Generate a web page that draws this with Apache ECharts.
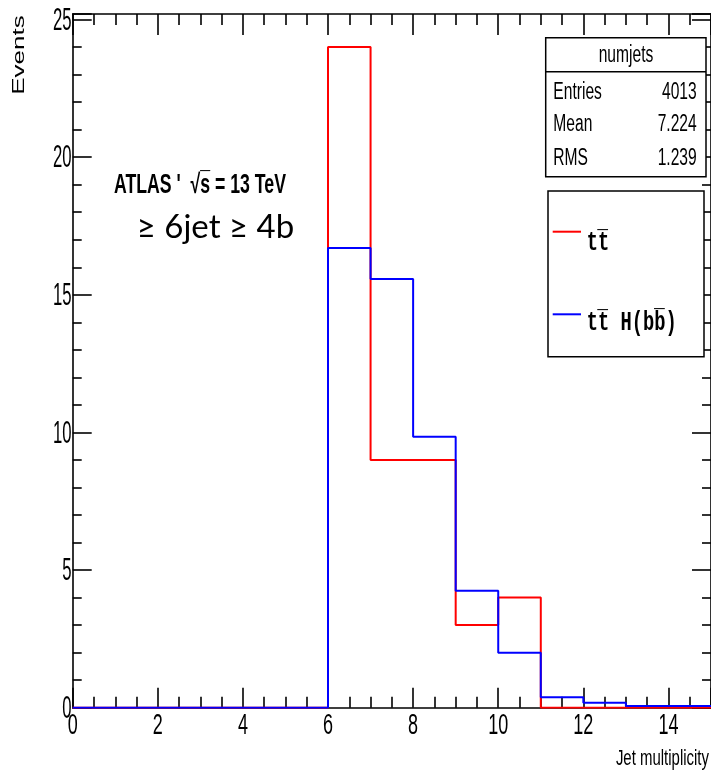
<!DOCTYPE html>
<html>
<head>
<meta charset="utf-8">
<script src="https://cdn.jsdelivr.net/npm/echarts@6/dist/echarts.min.js"></script>
<style>
  html, body { margin: 0; padding: 0; background: #fff; }
  #c { width: 711px; height: 775px; }
</style>
</head>
<body>
<div id="c"></div>
<script>
// Jet multiplicity histograms, unit-width bins from 0 to 15
const binEdges = [0, 1, 2, 3, 4, 5, 6, 7, 8, 9, 10, 11, 12, 13, 14, 15];
const ttbar    = [0, 0, 0, 0, 0, 0, 24, 9, 9, 3, 4, 0, 0, 0, 0];
const tthbb    = [0, 0, 0, 0, 0, 0, 16.7, 15.57, 9.84, 4.25, 2, 0.38, 0.18, 0.06, 0.06];

// Axis tick labels
const xTickLabels = [0, 2, 4, 6, 8, 10, 12, 14];
const yTickLabels = [0, 5, 10, 15, 20, 25];

// Statistics box and legend content
const statsTitle = 'numjets';
const statsNames = ['Entries', 'Mean', 'RMS'];
const statsValues = ['4013', '7.224', '1.239'];
const legendNames = ['tt\u0305', 'tt\u0305 H(bb\u0305)'];

// Histogram outline: one point per lower bin edge plus the closing edge
function outline(vals) {
  const pts = vals.map((v, i) => [binEdges[i], v]);
  pts.push([binEdges[vals.length], vals[vals.length - 1]]);
  return pts;
}

const black = '#000';
const tickStyle = { color: black, width: 1.6 };

function xAxisCfg(pos, major, minor) {
  return {
    type: 'value', position: pos, min: 0, max: 15, interval: 2,
    axisLine: { show: true, onZero: false, lineStyle: { color: black, width: 1.6 } },
    axisTick: { show: true, inside: true, length: major, lineStyle: tickStyle },
    minorTick: { show: true, splitNumber: 4, length: minor, lineStyle: tickStyle },
    axisLabel: { show: false },
    splitLine: { show: false }, minorSplitLine: { show: false }
  };
}
function yAxisCfg(pos, major, minor) {
  return {
    type: 'value', position: pos, min: 0, max: 25.2, interval: 5,
    axisLine: { show: true, onZero: false, lineStyle: { color: black, width: 1.6 } },
    axisTick: { show: true, inside: true, length: major, lineStyle: tickStyle },
    minorTick: { show: true, splitNumber: 5, length: minor, lineStyle: tickStyle },
    axisLabel: { show: false },
    splitLine: { show: false }, minorSplitLine: { show: false }
  };
}

const chart = echarts.init(document.getElementById('c'), null, { renderer: 'canvas' });

chart.setOption({
  animation: false,
  backgroundColor: '#fff',
  grid: { left: 72.7, top: 14, width: 641, height: 693.7 },
  xAxis: [xAxisCfg('bottom', 20, 11), xAxisCfg('top', 21, 11)],
  yAxis: [yAxisCfg('left', 19, 9), yAxisCfg('right', 19, 9)],
  series: [
    {
      name: legendNames[0], type: 'line', step: 'end', symbol: 'none',
      data: outline(ttbar),
      lineStyle: { color: '#ff0000', width: 2 }, z: 3
    },
    {
      name: legendNames[1], type: 'line', step: 'end', symbol: 'none',
      data: outline(tthbb),
      lineStyle: { color: '#0000ff', width: 2 }, z: 4
    }
  ]
});

// Helvetica-style labels are drawn condensed, as in the ROOT canvas
const sans = '"Liberation Sans", Arial, sans-serif';
const mono = '"Liberation Mono", "Courier New", monospace';
const els = [];

xTickLabels.forEach(v => {
  const px = chart.convertToPixel({ xAxisIndex: 0 }, v);
  els.push({
    type: 'text', x: px, y: 726.5, scaleX: 0.63, z: 50,
    style: { text: String(v), fontSize: 28.6, fontFamily: sans, fill: black, align: 'center', verticalAlign: 'middle' }
  });
});
yTickLabels.forEach(v => {
  const py = chart.convertToPixel({ yAxisIndex: 0 }, v);
  els.push({
    type: 'text', x: 71.5, y: py + 1.6, scaleX: 0.53, z: 50,
    style: { text: String(v), fontSize: 31.5, fontFamily: sans, fill: black, align: 'right', verticalAlign: 'middle' }
  });
});

// Axis titles
els.push({
  type: 'text', x: 19, y: 55, rotation: Math.PI / 2, scaleY: 0.64, z: 50,
  style: { text: 'Events', fontSize: 26, fontFamily: sans, fill: black, align: 'center', verticalAlign: 'middle' }
});
els.push({
  type: 'text', x: 709, y: 758.5, scaleX: 0.68, z: 50,
  style: { text: 'Jet multiplicity', fontSize: 22, fontFamily: sans, fill: black, align: 'right', verticalAlign: 'middle' }
});

// Experiment label and selection
els.push({
  type: 'text', x: 114, y: 185.4, scaleX: 0.655, z: 50,
  style: { text: 'ATLAS \'  \u221As\u0305 = 13 TeV', fontSize: 27, fontWeight: 'bold', fontFamily: sans, fill: black, align: 'left', verticalAlign: 'middle' }
});
els.push({
  type: 'text', x: 136.7, y: 227.4, z: 50,
  style: { text: '\u2265 6jet \u2265 4b', fontSize: 33, fontFamily: 'Lato, "Open Sans", sans-serif', fill: black, align: 'left', verticalAlign: 'middle' }
});

// Statistics box
els.push({
  type: 'rect', z: 40,
  shape: { x: 545.7, y: 37.7, width: 160.3, height: 139 },
  style: { fill: '#fff', stroke: black, lineWidth: 1.5 }
});
els.push({
  type: 'line', z: 41,
  shape: { x1: 545.7, y1: 71.7, x2: 706, y2: 71.7 },
  style: { stroke: black, lineWidth: 1.5 }
});
els.push({
  type: 'text', x: 626, y: 56, scaleX: 0.67, z: 50,
  style: { text: statsTitle, fontSize: 23.3, fontFamily: sans, fill: black, align: 'center', verticalAlign: 'middle' }
});
const rowY = [92.2, 124.2, 158.2];
statsNames.forEach((n, i) => {
  els.push({
    type: 'text', x: 553.3, y: rowY[i], scaleX: 0.67, z: 50,
    style: { text: n, fontSize: 23.3, fontFamily: sans, fill: black, align: 'left', verticalAlign: 'middle' }
  });
  els.push({
    type: 'text', x: 696.7, y: rowY[i], scaleX: 0.67, z: 50,
    style: { text: statsValues[i], fontSize: 23.3, fontFamily: sans, fill: black, align: 'right', verticalAlign: 'middle' }
  });
});

// Legend
els.push({
  type: 'rect', z: 40,
  shape: { x: 548, y: 191, width: 156, height: 165.7 },
  style: { fill: '#fff', stroke: black, lineWidth: 1.5 }
});
const legendColors = ['#ff0000', '#0000ff'];
const legendLineY = [231.7, 314.3];
const legendTextY = [243.4, 323.4];
legendNames.forEach((n, i) => {
  els.push({
    type: 'line', z: 41,
    shape: { x1: 552.7, y1: legendLineY[i], x2: 581, y2: legendLineY[i] },
    style: { stroke: legendColors[i], lineWidth: 2 }
  });
  els.push({
    type: 'text', x: 586.7, y: legendTextY[i], scaleX: 0.67, z: 50,
    style: { text: n, fontSize: 28, fontWeight: 'bold', fontFamily: mono, fill: black, align: 'left', verticalAlign: 'middle' }
  });
});

chart.setOption({ graphic: { elements: els } });
</script>
</body>
</html>
